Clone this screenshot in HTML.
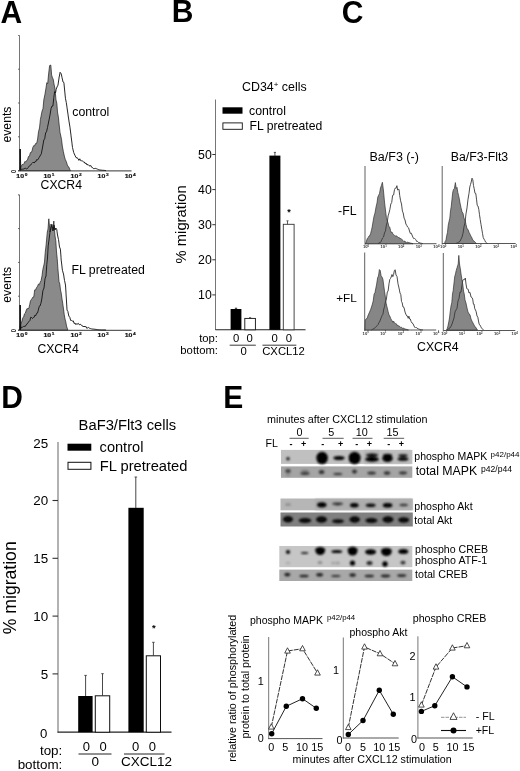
<!DOCTYPE html>
<html><head><meta charset="utf-8"><title>Figure</title>
<style>
html,body{margin:0;padding:0;background:#fff;}
body{width:520px;height:771px;overflow:hidden;}
svg{display:block;font-family:"Liberation Sans",Arial,Helvetica,sans-serif;}
</style></head><body>
<svg width="520" height="771" viewBox="0 0 520 771">
<rect width="520" height="771" fill="#fff"/>
<filter id="soft" x="0" y="0" width="520" height="771" filterUnits="userSpaceOnUse"><feGaussianBlur stdDeviation="0.32"/></filter>
<g filter="url(#soft)">
<text transform="translate(0.5,23.1) scale(1,1.07)" font-size="30" font-weight="bold" fill="#000">A</text>
<text transform="translate(171.8,22.0) scale(1,1.07)" font-size="30" font-weight="bold" fill="#000">B</text>
<text transform="translate(341.7,22.7) scale(1,1.07)" font-size="30" font-weight="bold" fill="#000">C</text>
<text transform="translate(1.2,408.4) scale(1,1.07)" font-size="30" font-weight="bold" fill="#000">D</text>
<text transform="translate(223.3,408.2) scale(1,1.05)" font-size="30" font-weight="bold" fill="#000">E</text>
<line x1="19.5" y1="35.5" x2="19.5" y2="170.6" stroke="#666" stroke-width="0.9" />
<line x1="18" y1="170.9" x2="131.5" y2="170.9" stroke="#333" stroke-width="1" />
<line x1="18" y1="170.6" x2="19.5" y2="170.6" stroke="#444" stroke-width="0.8" />
<line x1="18" y1="136.8" x2="19.5" y2="136.8" stroke="#444" stroke-width="0.8" />
<line x1="18" y1="103.0" x2="19.5" y2="103.0" stroke="#444" stroke-width="0.8" />
<line x1="18" y1="69.2" x2="19.5" y2="69.2" stroke="#444" stroke-width="0.8" />
<line x1="18" y1="35.400000000000006" x2="19.5" y2="35.400000000000006" stroke="#444" stroke-width="0.8" />
<text transform="translate(16.3,177.9) scale(1.4,1)" font-size="5" font-weight="bold" fill="#111" stroke="#111" stroke-width="0.15">10</text>
<text transform="translate(24.7,176.0) scale(1.3,1)" font-size="3.7" font-weight="bold" fill="#111" stroke="#111" stroke-width="0.15">0</text>
<text transform="translate(43.4,177.9) scale(1.4,1)" font-size="5" font-weight="bold" fill="#111" stroke="#111" stroke-width="0.15">10</text>
<text transform="translate(51.8,176.0) scale(1.3,1)" font-size="3.7" font-weight="bold" fill="#111" stroke="#111" stroke-width="0.15">1</text>
<text transform="translate(70.5,177.9) scale(1.4,1)" font-size="5" font-weight="bold" fill="#111" stroke="#111" stroke-width="0.15">10</text>
<text transform="translate(78.9,176.0) scale(1.3,1)" font-size="3.7" font-weight="bold" fill="#111" stroke="#111" stroke-width="0.15">2</text>
<text transform="translate(97.6,177.9) scale(1.4,1)" font-size="5" font-weight="bold" fill="#111" stroke="#111" stroke-width="0.15">10</text>
<text transform="translate(106.0,176.0) scale(1.3,1)" font-size="3.7" font-weight="bold" fill="#111" stroke="#111" stroke-width="0.15">3</text>
<text transform="translate(124.7,177.9) scale(1.4,1)" font-size="5" font-weight="bold" fill="#111" stroke="#111" stroke-width="0.15">10</text>
<text transform="translate(133.1,176.0) scale(1.3,1)" font-size="3.7" font-weight="bold" fill="#111" stroke="#111" stroke-width="0.15">4</text>
<text transform="translate(11.4,169.7) rotate(90) scale(0.85,1)" font-size="7" font-weight="bold" fill="#222">0</text>
<path d="M20.0,170.6 L20.5,167.0 L21.4,165.8 L22.2,164.5 L23.1,164.7 L24.0,163.5 L24.9,161.5 L25.8,161.9 L26.6,160.5 L27.5,160.0 L28.4,156.6 L29.4,156.3 L30.4,152.6 L31.3,152.5 L32.1,150.6 L32.9,147.3 L33.7,145.7 L34.5,146.0 L35.5,143.6 L36.5,143.7 L37.5,140.0 L38.5,131.8 L39.5,128.0 L40.4,119.6 L41.3,115.0 L42.1,111.0 L43.0,108.5 L43.8,100.0 L44.9,94.6 L46.0,88.0 L46.8,82.7 L47.7,83.7 L48.5,75.0 L49.6,65.6 L50.8,65.0 L51.6,74.9 L52.5,78.0 L53.2,79.1 L54.0,84.0 L55.0,89.0 L56.0,100.0 L56.8,103.1 L57.5,112.0 L58.4,117.2 L59.2,125.0 L60.0,132.4 L60.8,136.0 L61.5,139.3 L62.3,146.0 L63.3,151.3 L64.3,156.0 L65.3,159.5 L66.3,161.6 L67.3,165.0 L68.1,166.5 L68.9,167.1 L69.7,169.2 L70.5,170.6 Z" fill="#8a8a8a" stroke="#222" stroke-width="0.7200000000000001" stroke-linejoin="round"/>
<path d="M20.0,170.6 L20.2,149.0 L20.8,169.5 L21.6,169.4 L22.4,169.2 L23.2,169.1 L24.0,169.0 L24.9,168.3 L25.8,168.3 L26.6,168.9 L27.5,168.5 L28.4,167.2 L29.4,165.8 L30.4,165.3 L31.3,164.0 L32.2,163.2 L33.1,162.2 L34.1,163.0 L35.0,161.5 L35.8,161.7 L36.7,159.6 L37.5,160.0 L38.3,158.9 L39.2,157.4 L40.0,156.0 L41.3,153.8 L42.6,147.0 L43.8,140.0 L44.7,138.8 L45.6,133.0 L46.5,131.8 L47.5,127.5 L48.8,121.0 L50.0,115.0 L51.0,108.7 L52.0,106.0 L52.9,106.0 L53.8,97.5 L54.6,91.7 L55.5,93.0 L56.2,89.2 L57.0,87.0 L58.0,85.1 L59.0,78.0 L60.1,72.3 L61.2,73.8 L62.1,77.8 L63.0,82.0 L63.9,82.5 L64.8,92.0 L65.5,98.8 L66.3,102.5 L67.5,111.0 L68.8,120.0 L70.0,127.5 L71.2,137.0 L72.5,147.5 L73.7,152.5 L75.0,155.5 L76.0,157.6 L77.0,157.8 L78.0,158.5 L78.9,160.4 L79.8,158.8 L80.7,160.7 L81.6,160.8 L82.5,161.0 L83.4,161.8 L84.2,161.9 L85.1,163.5 L86.0,163.0 L87.0,165.0 L88.0,164.4 L89.0,165.7 L90.0,166.0 L90.8,165.5 L91.7,167.3 L92.5,167.5 L93.3,168.6 L94.2,168.6 L95.0,168.5 L95.8,168.4 L96.7,168.8 L97.5,169.2 L98.3,169.5 L99.2,169.8 L100.0,170.0 L100.9,170.1 L101.7,170.2 L102.6,170.3 L103.4,170.3 L104.3,170.4 L105.1,170.5 L106.0,170.6" fill="none" stroke="#111" stroke-width="0.9" stroke-linejoin="round"/>
<line x1="20.1" y1="149" x2="20.1" y2="170.6" stroke="#000" stroke-width="0.8" />
<text transform="translate(11,142.5) rotate(-90)" font-size="12.2" text-anchor="start" fill="#000">events</text>
<text x="72.3" y="115.6" font-size="12.3" text-anchor="start" font-weight="normal" fill="#000" >control</text>
<text x="40.6" y="189.4" font-size="12.2" text-anchor="start" font-weight="normal" fill="#000" >CXCR4</text>
<line x1="19.5" y1="195" x2="19.5" y2="330" stroke="#666" stroke-width="0.9" />
<line x1="18" y1="330.3" x2="131.5" y2="330.3" stroke="#333" stroke-width="1" />
<line x1="18" y1="330.0" x2="19.5" y2="330.0" stroke="#444" stroke-width="0.8" />
<line x1="18" y1="296.2" x2="19.5" y2="296.2" stroke="#444" stroke-width="0.8" />
<line x1="18" y1="262.4" x2="19.5" y2="262.4" stroke="#444" stroke-width="0.8" />
<line x1="18" y1="228.60000000000002" x2="19.5" y2="228.60000000000002" stroke="#444" stroke-width="0.8" />
<line x1="18" y1="194.8" x2="19.5" y2="194.8" stroke="#444" stroke-width="0.8" />
<text transform="translate(16.3,337.3) scale(1.4,1)" font-size="5" font-weight="bold" fill="#111" stroke="#111" stroke-width="0.15">10</text>
<text transform="translate(24.7,335.4) scale(1.3,1)" font-size="3.7" font-weight="bold" fill="#111" stroke="#111" stroke-width="0.15">0</text>
<text transform="translate(43.4,337.3) scale(1.4,1)" font-size="5" font-weight="bold" fill="#111" stroke="#111" stroke-width="0.15">10</text>
<text transform="translate(51.8,335.4) scale(1.3,1)" font-size="3.7" font-weight="bold" fill="#111" stroke="#111" stroke-width="0.15">1</text>
<text transform="translate(70.5,337.3) scale(1.4,1)" font-size="5" font-weight="bold" fill="#111" stroke="#111" stroke-width="0.15">10</text>
<text transform="translate(78.9,335.4) scale(1.3,1)" font-size="3.7" font-weight="bold" fill="#111" stroke="#111" stroke-width="0.15">2</text>
<text transform="translate(97.6,337.3) scale(1.4,1)" font-size="5" font-weight="bold" fill="#111" stroke="#111" stroke-width="0.15">10</text>
<text transform="translate(106.0,335.4) scale(1.3,1)" font-size="3.7" font-weight="bold" fill="#111" stroke="#111" stroke-width="0.15">3</text>
<text transform="translate(124.7,337.3) scale(1.4,1)" font-size="5" font-weight="bold" fill="#111" stroke="#111" stroke-width="0.15">10</text>
<text transform="translate(133.1,335.4) scale(1.3,1)" font-size="3.7" font-weight="bold" fill="#111" stroke="#111" stroke-width="0.15">4</text>
<text transform="translate(11.4,329.1) rotate(90) scale(0.85,1)" font-size="7" font-weight="bold" fill="#222">0</text>
<path d="M20.0,330.0 L20.3,325.0 L21.1,323.4 L22.0,321.0 L22.9,317.5 L23.7,316.9 L24.5,313.8 L25.4,313.0 L26.3,310.1 L27.1,308.5 L28.0,309.0 L28.9,308.0 L29.7,304.6 L30.5,300.8 L31.4,299.5 L32.2,298.3 L33.0,297.0 L33.8,296.8 L34.7,289.9 L35.5,290.0 L36.5,287.7 L37.5,286.3 L38.5,284.0 L39.4,284.5 L40.2,282.2 L41.1,280.5 L42.0,276.0 L42.8,269.7 L43.7,266.0 L44.5,262.0 L45.2,252.8 L46.0,246.0 L47.3,232.0 L48.0,229.1 L48.8,218.8 L50.0,232.0 L51.0,224.0 L52.3,230.0 L53.0,230.0 L53.8,221.0 L55.0,236.0 L55.8,240.9 L56.5,252.0 L57.2,258.4 L58.0,270.0 L59.0,281.5 L59.8,284.0 L60.5,290.0 L61.2,293.0 L62.0,299.0 L62.8,303.9 L63.5,309.0 L64.2,314.3 L65.0,319.0 L65.8,321.9 L66.5,326.0 L67.8,330.0 Z" fill="#8a8a8a" stroke="#222" stroke-width="0.7200000000000001" stroke-linejoin="round"/>
<path d="M20.0,330.0 L20.2,305.0 L20.8,328.5 L21.7,327.2 L22.5,327.2 L23.4,326.5 L24.3,326.3 L25.1,326.6 L26.0,325.0 L26.9,324.3 L27.9,322.6 L28.9,321.7 L29.8,320.7 L30.8,317.2 L31.7,317.6 L32.5,318.5 L33.4,317.4 L34.2,317.2 L35.0,315.0 L35.8,315.6 L36.7,313.2 L37.5,313.0 L38.3,310.2 L39.2,306.4 L40.0,306.0 L40.9,303.3 L41.8,299.0 L42.9,290.7 L44.0,288.0 L45.0,278.8 L46.0,276.0 L46.8,264.5 L47.5,258.0 L48.2,245.8 L49.0,240.0 L50.0,232.1 L51.0,227.5 L52.0,224.5 L53.0,231.0 L54.0,225.2 L55.0,230.0 L55.8,228.0 L56.7,229.2 L57.5,235.0 L58.5,239.6 L59.5,247.0 L60.4,249.1 L61.2,260.0 L62.4,270.2 L63.5,274.0 L64.5,280.4 L65.5,285.0 L66.3,298.0 L67.0,310.0 L67.9,311.5 L68.8,316.0 L69.8,317.3 L70.7,320.5 L71.6,320.5 L72.4,321.1 L73.3,320.9 L74.1,323.5 L75.0,323.0 L75.9,324.7 L76.7,323.6 L77.6,324.0 L78.4,323.4 L79.3,324.8 L80.2,324.2 L81.2,325.2 L82.2,325.4 L83.1,326.9 L84.0,326.0 L85.0,327.0 L85.9,326.4 L86.8,328.3 L87.7,327.8 L88.7,327.5 L89.6,328.3 L90.5,328.5 L91.4,328.8 L92.3,329.0 L93.2,329.1 L94.1,329.2 L95.0,329.3 L95.9,329.4 L96.8,329.5 L97.7,329.6 L98.6,329.7 L99.5,329.8 L100.4,329.8 L101.4,329.9 L102.3,329.9 L103.2,329.9 L104.1,329.9 L105.1,330.0 L106.0,330.0" fill="none" stroke="#111" stroke-width="0.9" stroke-linejoin="round"/>
<line x1="20.1" y1="305" x2="20.1" y2="330" stroke="#000" stroke-width="0.8" />
<text transform="translate(11.3,302.7) rotate(-90)" font-size="12.2" text-anchor="start" fill="#000">events</text>
<text x="71.5" y="273.7" font-size="12.3" text-anchor="start" font-weight="normal" fill="#000" >FL pretreated</text>
<text x="37.4" y="352.5" font-size="12.2" text-anchor="start" font-weight="normal" fill="#000" >CXCR4</text>
<line x1="18.6" y1="195.2" x2="19.5" y2="195.2" stroke="#555" stroke-width="0.6" />
<text x="242" y="91.3" font-size="12.4" text-anchor="start" font-weight="normal" fill="#000" >CD34<tspan dy="-4" font-size="8">+</tspan><tspan dy="4"> cells</tspan></text>
<line x1="215.5" y1="99.5" x2="215.5" y2="330" stroke="#666" stroke-width="0.9" />
<line x1="215.5" y1="329.8" x2="305.5" y2="329.8" stroke="#222" stroke-width="1.05" />
<rect x="222.5" y="107.3" width="20" height="6.4" fill="#000" stroke="none" stroke-width="1" />
<rect x="222.9" y="122.9" width="19.4" height="6.4" fill="#fff" stroke="#111" stroke-width="0.9" />
<text x="249" y="115" font-size="12.3" text-anchor="start" font-weight="normal" fill="#000" >control</text>
<text x="249.5" y="129.8" font-size="12.2" text-anchor="start" font-weight="normal" fill="#000" >FL pretreated</text>
<line x1="212.3" y1="154.5" x2="215.5" y2="154.5" stroke="#333" stroke-width="1" />
<text x="211.8" y="158.9" font-size="12.3" text-anchor="end" font-weight="normal" fill="#000" >50</text>
<line x1="212.3" y1="189.6" x2="215.5" y2="189.6" stroke="#333" stroke-width="1" />
<text x="211.8" y="194.0" font-size="12.3" text-anchor="end" font-weight="normal" fill="#000" >40</text>
<line x1="212.3" y1="224.7" x2="215.5" y2="224.7" stroke="#333" stroke-width="1" />
<text x="211.8" y="229.1" font-size="12.3" text-anchor="end" font-weight="normal" fill="#000" >30</text>
<line x1="212.3" y1="259.8" x2="215.5" y2="259.8" stroke="#333" stroke-width="1" />
<text x="211.8" y="264.2" font-size="12.3" text-anchor="end" font-weight="normal" fill="#000" >20</text>
<line x1="212.3" y1="294.9" x2="215.5" y2="294.9" stroke="#333" stroke-width="1" />
<text x="211.8" y="299.29999999999995" font-size="12.3" text-anchor="end" font-weight="normal" fill="#000" >10</text>
<text transform="translate(186.3,263.5) rotate(-90)" font-size="14.8" text-anchor="start" fill="#000">% migration</text>
<rect x="230.6" y="309" width="10.8" height="20.8" fill="#000" stroke="none" stroke-width="1" />
<line x1="236" y1="308" x2="236" y2="309" stroke="#000" stroke-width="0.8" />
<line x1="234.8" y1="308.2" x2="237.2" y2="308.2" stroke="#000" stroke-width="0.7" />
<rect x="244.8" y="318.4" width="10.6" height="11.4" fill="#fff" stroke="#111" stroke-width="0.9" />
<line x1="250.1" y1="317.6" x2="250.1" y2="318.4" stroke="#222" stroke-width="0.8" />
<line x1="249" y1="317.6" x2="251.2" y2="317.6" stroke="#222" stroke-width="0.6" />
<rect x="269.4" y="155.6" width="11" height="174.2" fill="#000" stroke="none" stroke-width="1" />
<line x1="274.9" y1="152.4" x2="274.9" y2="156" stroke="#222" stroke-width="0.8" />
<line x1="273.8" y1="152.4" x2="276" y2="152.4" stroke="#222" stroke-width="0.7" />
<rect x="283.3" y="224.3" width="10.8" height="105.5" fill="#fff" stroke="#333" stroke-width="0.9" />
<line x1="287.5" y1="220.8" x2="287.5" y2="224.3" stroke="#333" stroke-width="0.8" />
<line x1="286.4" y1="220.8" x2="288.6" y2="220.8" stroke="#333" stroke-width="0.7" />
<text x="289" y="214.6" font-size="9" text-anchor="middle" font-weight="bold" fill="#000" >*</text>
<text x="218" y="341.5" font-size="11.3" text-anchor="end" font-weight="normal" fill="#000" >top:</text>
<text x="218" y="353.5" font-size="11.3" text-anchor="end" font-weight="normal" fill="#000" >bottom:</text>
<text x="236.1" y="341.5" font-size="11.3" text-anchor="middle" font-weight="normal" fill="#000" >0</text>
<text x="249.7" y="341.5" font-size="11.3" text-anchor="middle" font-weight="normal" fill="#000" >0</text>
<text x="274.6" y="341.5" font-size="11.3" text-anchor="middle" font-weight="normal" fill="#000" >0</text>
<text x="289.0" y="341.5" font-size="11.3" text-anchor="middle" font-weight="normal" fill="#000" >0</text>
<line x1="229.7" y1="345.2" x2="255.8" y2="345.2" stroke="#222" stroke-width="0.9" />
<line x1="262.5" y1="345.2" x2="296.3" y2="345.2" stroke="#222" stroke-width="0.9" />
<text x="243.7" y="355" font-size="11.3" text-anchor="middle" font-weight="normal" fill="#000" >0</text>
<text x="262.2" y="355" font-size="11.3" text-anchor="start" font-weight="normal" fill="#000" >CXCL12</text>
<text x="369.5" y="161" font-size="12.5" text-anchor="start" font-weight="normal" fill="#000" >Ba/F3 (-)</text>
<text x="450.8" y="161" font-size="12.3" text-anchor="start" font-weight="normal" fill="#000" >Ba/F3-Flt3</text>
<text x="338.1" y="215" font-size="12.3" text-anchor="start" font-weight="normal" fill="#000" >-FL</text>
<text x="336.2" y="302" font-size="11.8" text-anchor="start" font-weight="normal" fill="#000" >+FL</text>
<text x="417" y="351.3" font-size="12.3" text-anchor="start" font-weight="normal" fill="#000" >CXCR4</text>
<line x1="365" y1="166" x2="365" y2="244.7" stroke="#444" stroke-width="0.85" />
<line x1="365" y1="243.7" x2="436.5" y2="243.7" stroke="#444" stroke-width="0.9" />
<text x="366.0" y="248.39999999999998" font-size="4.2" font-weight="bold" text-anchor="middle" fill="#333">10<tspan dy="-1.3" font-size="2.8">0</tspan></text>
<text x="383.6" y="248.39999999999998" font-size="4.2" font-weight="bold" text-anchor="middle" fill="#333">10<tspan dy="-1.3" font-size="2.8">1</tspan></text>
<text x="401.2" y="248.39999999999998" font-size="4.2" font-weight="bold" text-anchor="middle" fill="#333">10<tspan dy="-1.3" font-size="2.8">2</tspan></text>
<text x="418.8" y="248.39999999999998" font-size="4.2" font-weight="bold" text-anchor="middle" fill="#333">10<tspan dy="-1.3" font-size="2.8">3</tspan></text>
<text x="436.4" y="248.39999999999998" font-size="4.2" font-weight="bold" text-anchor="middle" fill="#333">10<tspan dy="-1.3" font-size="2.8">4</tspan></text>
<path d="M365.5,243.7 L366.5,241.0 L367.3,238.4 L368.2,237.7 L369.0,236.0 L369.8,235.6 L370.6,233.5 L371.4,230.5 L372.2,227.0 L373.0,222.0 L374.0,216.3 L375.0,213.0 L376.0,207.2 L377.0,203.0 L377.8,197.1 L378.5,195.5 L379.5,193.6 L380.5,188.0 L381.4,185.4 L382.4,182.3 L383.5,191.0 L384.5,202.0 L385.7,212.0 L386.4,217.4 L387.0,220.0 L388.0,222.8 L389.0,227.0 L389.8,227.2 L390.5,230.6 L391.2,232.4 L392.0,232.0 L392.8,233.9 L393.6,234.5 L394.4,235.3 L395.2,235.9 L396.0,236.0 L396.8,235.9 L397.6,237.2 L398.4,237.5 L399.2,237.4 L400.0,239.0 L400.8,238.4 L401.5,239.3 L402.2,239.6 L403.0,240.7 L403.8,241.5 L404.5,241.0 L405.2,242.1 L406.0,241.8 L406.8,242.6 L407.6,242.2 L408.3,242.4 L409.1,242.6 L409.9,242.9 L410.7,243.1 L411.4,243.3 L412.2,243.5 L413.0,243.7 Z" fill="#868686" stroke="#333" stroke-width="0.7200000000000001" stroke-linejoin="round"/>
<path d="M378.0,243.7 L378.8,243.1 L379.5,242.6 L380.2,242.7 L381.0,241.5 L381.8,239.7 L382.7,237.8 L383.5,237.0 L384.5,233.0 L385.5,230.8 L386.4,225.1 L387.3,222.0 L388.1,215.9 L389.0,213.0 L389.9,209.3 L390.8,204.0 L391.7,202.5 L392.6,195.4 L393.6,195.0 L394.5,189.5 L395.3,188.1 L396.1,188.2 L396.9,185.7 L397.6,190.0 L398.3,189.5 L399.0,189.3 L399.7,195.4 L400.6,200.8 L401.5,204.0 L402.4,211.1 L403.2,213.0 L404.1,218.1 L405.0,220.0 L405.9,224.0 L406.8,225.5 L407.7,227.2 L408.6,227.9 L409.5,231.0 L410.3,233.4 L411.2,233.1 L412.0,235.0 L412.8,237.0 L413.7,238.6 L414.5,238.5 L415.2,239.0 L415.9,239.7 L416.7,241.5 L417.4,241.4 L418.3,242.3 L419.1,242.5 L420.0,243.0 L420.8,243.2 L421.5,243.3 L422.2,243.5 L423.0,243.7" fill="none" stroke="#383838" stroke-width="0.9" stroke-linejoin="round"/>
<line x1="442.2" y1="166" x2="442.2" y2="244.5" stroke="#444" stroke-width="0.85" />
<line x1="442.2" y1="243.5" x2="515.7" y2="243.5" stroke="#444" stroke-width="0.9" />
<text x="443.2" y="248.2" font-size="4.2" font-weight="bold" text-anchor="middle" fill="#333">10<tspan dy="-1.3" font-size="2.8">0</tspan></text>
<text x="460.8" y="248.2" font-size="4.2" font-weight="bold" text-anchor="middle" fill="#333">10<tspan dy="-1.3" font-size="2.8">1</tspan></text>
<text x="478.4" y="248.2" font-size="4.2" font-weight="bold" text-anchor="middle" fill="#333">10<tspan dy="-1.3" font-size="2.8">2</tspan></text>
<text x="496.0" y="248.2" font-size="4.2" font-weight="bold" text-anchor="middle" fill="#333">10<tspan dy="-1.3" font-size="2.8">3</tspan></text>
<text x="513.6" y="248.2" font-size="4.2" font-weight="bold" text-anchor="middle" fill="#333">10<tspan dy="-1.3" font-size="2.8">4</tspan></text>
<path d="M444.5,243.5 L445.2,241.4 L446.0,240.1 L446.8,235.2 L447.5,232.3 L448.2,225.6 L449.0,221.6 L449.8,218.2 L450.5,210.8 L451.2,206.8 L452.0,199.1 L452.8,191.9 L453.5,189.4 L454.4,188.4 L455.4,182.6 L456.2,188.5 L457.0,187.4 L457.8,192.4 L458.5,195.2 L459.2,198.2 L460.0,203.0 L461.0,207.7 L462.0,211.8 L463.0,213.3 L464.0,218.6 L465.0,219.4 L466.0,224.5 L467.0,228.8 L468.0,229.4 L469.0,232.3 L470.0,234.2 L471.0,236.3 L472.0,238.1 L473.0,240.4 L474.0,241.1 L474.8,241.8 L475.7,242.7 L476.5,243.5 Z" fill="#868686" stroke="#333" stroke-width="0.7200000000000001" stroke-linejoin="round"/>
<path d="M456.0,243.5 L456.8,243.1 L457.5,242.8 L458.2,242.4 L459.0,242.0 L460.0,241.3 L461.0,239.1 L462.0,237.1 L463.0,233.3 L464.0,226.7 L465.0,222.5 L466.0,213.8 L467.0,207.9 L468.0,199.2 L469.0,193.3 L469.8,186.9 L470.5,184.5 L471.2,182.1 L472.0,178.2 L472.8,179.8 L473.5,185.5 L474.2,188.8 L475.0,193.3 L475.8,193.5 L476.5,199.1 L477.2,205.3 L478.0,206.0 L478.8,209.5 L479.5,214.7 L480.2,219.4 L481.0,224.5 L481.8,229.2 L482.5,233.3 L483.2,237.4 L484.0,239.1 L484.8,240.4 L485.5,242.0 L486.5,242.8 L487.5,243.5" fill="none" stroke="#383838" stroke-width="0.9" stroke-linejoin="round"/>
<line x1="364.7" y1="252.5" x2="364.7" y2="331" stroke="#444" stroke-width="0.85" />
<line x1="364.7" y1="330" x2="436.2" y2="330" stroke="#444" stroke-width="0.9" />
<text x="365.7" y="334.7" font-size="4.2" font-weight="bold" text-anchor="middle" fill="#333">10<tspan dy="-1.3" font-size="2.8">0</tspan></text>
<text x="383.3" y="334.7" font-size="4.2" font-weight="bold" text-anchor="middle" fill="#333">10<tspan dy="-1.3" font-size="2.8">1</tspan></text>
<text x="400.9" y="334.7" font-size="4.2" font-weight="bold" text-anchor="middle" fill="#333">10<tspan dy="-1.3" font-size="2.8">2</tspan></text>
<text x="418.5" y="334.7" font-size="4.2" font-weight="bold" text-anchor="middle" fill="#333">10<tspan dy="-1.3" font-size="2.8">3</tspan></text>
<text x="436.1" y="334.7" font-size="4.2" font-weight="bold" text-anchor="middle" fill="#333">10<tspan dy="-1.3" font-size="2.8">4</tspan></text>
<path d="M365.0,330.0 L365.3,320.0 L366.5,318.5 L367.2,318.4 L368.0,315.5 L368.8,313.8 L369.6,312.0 L370.6,309.6 L371.5,307.0 L372.4,304.1 L373.2,301.0 L374.1,294.1 L375.0,292.5 L375.9,287.9 L376.7,284.0 L377.6,277.8 L378.5,276.0 L379.4,269.6 L380.2,270.4 L381.1,275.9 L382.0,277.0 L382.9,279.3 L383.8,286.0 L384.6,291.8 L385.5,298.0 L386.2,303.6 L387.0,307.0 L388.0,311.2 L389.0,315.0 L389.8,316.1 L390.7,318.4 L391.5,320.0 L392.2,320.9 L392.9,322.3 L393.7,321.2 L394.4,323.0 L395.1,323.6 L395.8,323.4 L396.6,324.0 L397.3,325.6 L398.0,325.5 L398.9,326.0 L399.8,326.5 L400.6,327.3 L401.5,327.3 L402.4,328.3 L403.2,328.1 L404.1,328.6 L405.0,329.0 L405.9,329.2 L406.8,329.5 L407.6,329.8 L408.5,330.0 Z" fill="#868686" stroke="#333" stroke-width="0.7200000000000001" stroke-linejoin="round"/>
<path d="M371.4,330.0 L372.3,329.5 L373.1,329.0 L374.0,328.5 L374.9,327.9 L375.8,327.0 L376.7,326.3 L377.4,325.3 L378.1,324.6 L378.8,322.9 L379.5,322.0 L380.3,320.0 L381.2,317.7 L382.0,315.7 L382.9,314.3 L383.8,309.0 L384.6,306.3 L385.5,301.5 L386.4,299.1 L387.3,292.0 L388.1,291.0 L389.0,283.8 L389.8,279.4 L390.5,278.5 L391.2,277.0 L392.0,274.5 L392.8,276.7 L393.6,274.5 L394.4,270.4 L395.2,269.8 L396.0,275.0 L397.0,276.5 L398.0,283.8 L399.0,288.0 L400.0,293.0 L400.8,294.6 L401.5,301.5 L402.2,302.8 L403.0,307.0 L404.0,307.4 L405.0,312.0 L405.8,314.1 L406.7,315.9 L407.5,316.0 L408.2,318.3 L408.9,316.2 L409.6,319.0 L410.3,319.0 L411.1,321.5 L412.0,323.0 L413.0,323.6 L414.0,326.0 L414.8,327.3 L415.5,328.0 L416.2,327.3 L417.0,328.3 L417.8,328.6 L418.5,328.9 L419.2,329.2 L420.0,329.5 L420.8,329.6 L421.5,329.8 L422.2,329.9 L423.0,330.0" fill="none" stroke="#383838" stroke-width="0.9" stroke-linejoin="round"/>
<line x1="443.3" y1="253" x2="443.3" y2="331.5" stroke="#444" stroke-width="0.85" />
<line x1="443.3" y1="330.5" x2="515.3" y2="330.5" stroke="#444" stroke-width="0.9" />
<text x="444.3" y="335.2" font-size="4.2" font-weight="bold" text-anchor="middle" fill="#333">10<tspan dy="-1.3" font-size="2.8">0</tspan></text>
<text x="461.90000000000003" y="335.2" font-size="4.2" font-weight="bold" text-anchor="middle" fill="#333">10<tspan dy="-1.3" font-size="2.8">1</tspan></text>
<text x="479.5" y="335.2" font-size="4.2" font-weight="bold" text-anchor="middle" fill="#333">10<tspan dy="-1.3" font-size="2.8">2</tspan></text>
<text x="497.1" y="335.2" font-size="4.2" font-weight="bold" text-anchor="middle" fill="#333">10<tspan dy="-1.3" font-size="2.8">3</tspan></text>
<text x="514.7" y="335.2" font-size="4.2" font-weight="bold" text-anchor="middle" fill="#333">10<tspan dy="-1.3" font-size="2.8">4</tspan></text>
<path d="M446.5,330.0 L447.2,328.7 L448.0,326.0 L448.8,321.7 L449.5,318.0 L450.2,311.9 L451.0,306.0 L451.8,302.6 L452.5,294.0 L453.2,290.6 L454.0,283.0 L454.8,276.2 L455.5,274.0 L456.2,270.5 L457.0,268.0 L458.2,264.0 L458.8,255.4 L459.5,264.0 L460.5,270.0 L461.2,275.1 L462.0,280.0 L462.8,284.5 L463.5,291.0 L464.2,293.8 L465.0,300.0 L466.0,303.1 L467.0,308.0 L468.0,311.9 L469.0,314.0 L470.0,314.8 L471.0,319.0 L472.0,321.2 L473.0,323.0 L474.0,324.9 L475.0,327.0 L475.8,327.3 L476.7,329.0 L477.5,330.0 Z" fill="#868686" stroke="#333" stroke-width="0.7200000000000001" stroke-linejoin="round"/>
<path d="M447.0,330.0 L447.8,329.5 L448.5,329.0 L449.2,328.2 L450.0,328.0 L451.0,326.3 L452.0,324.0 L453.0,321.0 L454.0,318.0 L455.0,311.9 L456.0,310.0 L457.0,308.3 L458.0,301.0 L459.0,298.5 L460.0,292.0 L461.0,292.1 L462.0,285.0 L462.9,280.0 L463.7,279.5 L464.6,279.6 L465.3,278.0 L466.0,284.0 L466.8,288.7 L467.5,289.0 L468.2,289.3 L469.0,293.0 L470.0,292.4 L471.0,297.0 L471.9,297.5 L472.7,299.0 L473.4,304.1 L474.0,304.0 L474.8,308.8 L475.5,310.0 L476.2,311.8 L477.0,316.0 L477.8,317.1 L478.5,321.0 L479.2,324.3 L480.0,325.0 L480.8,326.7 L481.5,328.0 L482.5,329.0 L483.5,330.0" fill="none" stroke="#383838" stroke-width="0.9" stroke-linejoin="round"/>
<text x="78.6" y="429.6" font-size="14.75" text-anchor="start" font-weight="normal" fill="#000" >BaF3/Flt3 cells</text>
<line x1="58" y1="442" x2="58" y2="732.5" stroke="#555" stroke-width="0.9" />
<line x1="57.5" y1="732.2" x2="171.5" y2="732.2" stroke="#222" stroke-width="1.3" />
<rect x="67.5" y="443.7" width="23.8" height="7" fill="#000" stroke="none" stroke-width="1" />
<rect x="68" y="462.3" width="22.9" height="7" fill="#fff" stroke="#111" stroke-width="1" />
<text x="99.6" y="452.2" font-size="14.6" text-anchor="start" font-weight="normal" fill="#000" >control</text>
<text x="99.8" y="470.6" font-size="14.7" text-anchor="start" font-weight="normal" fill="#000" >FL pretreated</text>
<text x="48.2" y="447.6" font-size="13.4" text-anchor="end" font-weight="normal" fill="#000" >25</text>
<line x1="52.5" y1="500.5" x2="58" y2="500.5" stroke="#333" stroke-width="1.1" />
<text x="48.2" y="505.1" font-size="13.4" text-anchor="end" font-weight="normal" fill="#000" >20</text>
<line x1="52.5" y1="558.3" x2="58" y2="558.3" stroke="#333" stroke-width="1.1" />
<text x="48.2" y="562.9" font-size="13.4" text-anchor="end" font-weight="normal" fill="#000" >15</text>
<line x1="52.5" y1="616.1" x2="58" y2="616.1" stroke="#333" stroke-width="1.1" />
<text x="48.2" y="620.7" font-size="13.4" text-anchor="end" font-weight="normal" fill="#000" >10</text>
<line x1="52.5" y1="673.9" x2="58" y2="673.9" stroke="#333" stroke-width="1.1" />
<text x="48.2" y="678.5" font-size="13.4" text-anchor="end" font-weight="normal" fill="#000" >5</text>
<text x="47.3" y="738.4" font-size="13.2" text-anchor="end" font-weight="normal" fill="#000" >0</text>
<text transform="translate(15.7,634.2) rotate(-90)" font-size="17.6" text-anchor="start" fill="#000">% migration</text>
<rect x="78.2" y="696" width="14.4" height="36.2" fill="#000" stroke="none" stroke-width="1" />
<line x1="85.6" y1="675.4" x2="85.6" y2="696" stroke="#333" stroke-width="0.9" />
<line x1="84.3" y1="675.4" x2="86.9" y2="675.4" stroke="#333" stroke-width="0.8" />
<rect x="95.3" y="695.8" width="14.4" height="36.4" fill="#fff" stroke="#111" stroke-width="1" />
<line x1="102.5" y1="673.7" x2="102.5" y2="695.8" stroke="#333" stroke-width="0.9" />
<line x1="101.2" y1="673.7" x2="103.8" y2="673.7" stroke="#333" stroke-width="0.8" />
<rect x="128.4" y="507.8" width="15.3" height="224.4" fill="#000" stroke="none" stroke-width="1" />
<line x1="135.8" y1="477" x2="135.8" y2="508" stroke="#333" stroke-width="0.9" />
<line x1="134.5" y1="477" x2="137.1" y2="477" stroke="#333" stroke-width="0.8" />
<rect x="146.3" y="655.8" width="14.2" height="76.4" fill="#fff" stroke="#111" stroke-width="1" />
<line x1="153.4" y1="642.3" x2="153.4" y2="655.8" stroke="#333" stroke-width="0.9" />
<line x1="152.1" y1="642.3" x2="154.7" y2="642.3" stroke="#333" stroke-width="0.8" />
<text x="153.8" y="631.2" font-size="9.5" text-anchor="middle" font-weight="bold" fill="#000" >*</text>
<text x="62.3" y="754.5" font-size="13.4" text-anchor="end" font-weight="normal" fill="#000" >top:</text>
<text x="62.3" y="768.6" font-size="13.4" text-anchor="end" font-weight="normal" fill="#000" >bottom:</text>
<text x="86.4" y="751" font-size="13" text-anchor="middle" font-weight="normal" fill="#000" >0</text>
<text x="103.2" y="751" font-size="13" text-anchor="middle" font-weight="normal" fill="#000" >0</text>
<text x="135.7" y="751" font-size="13" text-anchor="middle" font-weight="normal" fill="#000" >0</text>
<text x="152.4" y="751" font-size="13" text-anchor="middle" font-weight="normal" fill="#000" >0</text>
<line x1="78.5" y1="754.0" x2="111.5" y2="754.0" stroke="#222" stroke-width="1" />
<line x1="124" y1="754.0" x2="164.5" y2="754.0" stroke="#222" stroke-width="1" />
<text x="95.3" y="766.3" font-size="13.5" text-anchor="middle" font-weight="normal" fill="#000" >0</text>
<text x="121" y="766.3" font-size="13.5" text-anchor="start" font-weight="normal" fill="#000" >CXCL12</text>
<text x="267.1" y="423.4" font-size="10.78" text-anchor="start" font-weight="normal" fill="#000" >minutes after CXCL12 stimulation</text>
<text x="299.5" y="436.0" font-size="10.8" text-anchor="middle" font-weight="normal" fill="#000" >0</text>
<text x="331.2" y="436.0" font-size="10.8" text-anchor="middle" font-weight="normal" fill="#000" >5</text>
<text x="361.8" y="436.0" font-size="10.8" text-anchor="middle" font-weight="normal" fill="#000" >10</text>
<text x="392.5" y="436.0" font-size="10.8" text-anchor="middle" font-weight="normal" fill="#000" >15</text>
<line x1="289.5" y1="438.3" x2="308.7" y2="438.3" stroke="#333" stroke-width="0.8" />
<line x1="322.5" y1="438.3" x2="343.7" y2="438.3" stroke="#333" stroke-width="0.8" />
<line x1="352.5" y1="438.3" x2="372.5" y2="438.3" stroke="#333" stroke-width="0.8" />
<line x1="383.7" y1="438.3" x2="404.2" y2="438.3" stroke="#333" stroke-width="0.8" />
<text x="265.5" y="447" font-size="10.6" text-anchor="start" font-weight="normal" fill="#000" >FL</text>
<text x="291" y="446.6" font-size="9" text-anchor="middle" font-weight="bold" fill="#000" >-</text>
<text x="303.7" y="446.6" font-size="9" text-anchor="middle" font-weight="bold" fill="#000" >+</text>
<text x="322.7" y="446.6" font-size="9" text-anchor="middle" font-weight="bold" fill="#000" >-</text>
<text x="340.7" y="446.6" font-size="9" text-anchor="middle" font-weight="bold" fill="#000" >+</text>
<text x="356.7" y="446.6" font-size="9" text-anchor="middle" font-weight="bold" fill="#000" >-</text>
<text x="369.5" y="446.6" font-size="9" text-anchor="middle" font-weight="bold" fill="#000" >+</text>
<text x="388.7" y="446.6" font-size="9" text-anchor="middle" font-weight="bold" fill="#000" >-</text>
<text x="401.5" y="446.6" font-size="9" text-anchor="middle" font-weight="bold" fill="#000" >+</text>
<defs><filter id="bl" x="-20%" y="-50%" width="140%" height="200%"><feGaussianBlur stdDeviation="0.95"/></filter><filter id="bl2" x="-20%" y="-50%" width="140%" height="200%"><feGaussianBlur stdDeviation="0.45"/></filter></defs>
<rect x="281" y="449.9" width="131.3" height="14" fill="#c0c0c0" stroke="none" stroke-width="1" />
<rect x="364" y="450.5" width="16" height="13" fill="#b4b4b4" stroke="none" stroke-width="1" filter="url(#bl)"/>
<rect x="380" y="451" width="31" height="12.5" fill="#bcbcbc" stroke="none" stroke-width="1" filter="url(#bl)"/>
<g filter="url(#bl)">
<ellipse cx="288" cy="458.8" rx="1.7" ry="1.7" fill="#000" opacity="0.9"/>
<ellipse cx="322.1" cy="458" rx="5.75" ry="6.25" fill="#000" opacity="1"/>
<ellipse cx="322.1" cy="457" rx="4.5" ry="4.5" fill="#000" opacity="1"/>
<ellipse cx="322.1" cy="460" rx="5.25" ry="3.0" fill="#000" opacity="1"/>
<ellipse cx="339" cy="458" rx="5.75" ry="2.1" fill="#000" opacity="1"/>
<ellipse cx="354.6" cy="458" rx="6.0" ry="6.25" fill="#000" opacity="1"/>
<ellipse cx="354.6" cy="457" rx="4.75" ry="4.5" fill="#000" opacity="1"/>
<ellipse cx="354.6" cy="460" rx="5.5" ry="3.0" fill="#000" opacity="1"/>
<ellipse cx="372" cy="455.2" rx="6.0" ry="1.6" fill="#000" opacity="1"/>
<ellipse cx="372" cy="459.2" rx="6.75" ry="2.5" fill="#000" opacity="1"/>
<ellipse cx="387.5" cy="458.3" rx="5.25" ry="3.75" fill="#000" opacity="1"/>
<ellipse cx="387.5" cy="455.2" rx="4.5" ry="1.5" fill="#000" opacity="1"/>
<ellipse cx="403" cy="455.6" rx="4.75" ry="1.3" fill="#000" opacity="0.95"/>
<ellipse cx="403" cy="459" rx="5.5" ry="1.8" fill="#000" opacity="1"/>
</g>
<rect x="281" y="466.4" width="131.3" height="11.4" fill="#a5a5a5" stroke="none" stroke-width="1" />
<g filter="url(#bl)">
<ellipse cx="288" cy="471" rx="2.75" ry="2.0" fill="#000" opacity="0.6"/>
<ellipse cx="288" cy="475" rx="2.5" ry="1.0" fill="#000" opacity="0.2"/>
<ellipse cx="305" cy="470.8" rx="4.0" ry="0.9" fill="#000" opacity="0.35"/>
<ellipse cx="305" cy="473.6" rx="4.75" ry="1.4" fill="#000" opacity="0.7"/>
<ellipse cx="321.6" cy="472" rx="2.75" ry="2.1" fill="#000" opacity="0.7"/>
<ellipse cx="337.8" cy="474" rx="4.5" ry="1.1" fill="#000" opacity="0.75"/>
<ellipse cx="354.5" cy="471.6" rx="2.5" ry="2.1" fill="#000" opacity="0.7"/>
<ellipse cx="371.6" cy="473" rx="4.25" ry="1.5" fill="#000" opacity="0.7"/>
<ellipse cx="387" cy="473" rx="3.25" ry="1.8" fill="#000" opacity="0.7"/>
<ellipse cx="403" cy="473" rx="4.0" ry="1.4" fill="#000" opacity="0.7"/>
</g>
<rect x="280.5" y="498.5" width="132.3" height="11.8" fill="#b6b6b6" stroke="none" stroke-width="1" />
<rect x="315" y="499" width="97" height="10.8" fill="#adadad" stroke="none" stroke-width="1" filter="url(#bl)"/>
<g filter="url(#bl)">
<ellipse cx="288" cy="504.5" rx="3.0" ry="1.5" fill="#000" opacity="0.2"/>
<ellipse cx="321.8" cy="504.8" rx="4.75" ry="2.6" fill="#000" opacity="1"/>
<ellipse cx="337.6" cy="503.8" rx="5.5" ry="1.2" fill="#000" opacity="0.7"/>
<ellipse cx="337.6" cy="504.6" rx="2.5" ry="1.2" fill="#000" opacity="0.4"/>
<ellipse cx="354.3" cy="505.2" rx="4.25" ry="2.2" fill="#000" opacity="1"/>
<ellipse cx="370.7" cy="505.2" rx="5.0" ry="1.8" fill="#000" opacity="0.95"/>
<ellipse cx="387.6" cy="505.2" rx="4.75" ry="2.3" fill="#000" opacity="1"/>
<ellipse cx="403.7" cy="505" rx="4.25" ry="1.2" fill="#000" opacity="0.7"/>
</g>
<rect x="280.5" y="512.5" width="132.3" height="14" fill="#808080" stroke="none" stroke-width="1" />
<g filter="url(#bl)">
<ellipse cx="288" cy="519.3" rx="5.0" ry="3.2" fill="#000" opacity="0.95"/>
<ellipse cx="305" cy="520.6" rx="6.25" ry="2.5" fill="#000" opacity="0.95"/>
<ellipse cx="321.5" cy="519.5" rx="5.5" ry="3.2" fill="#000" opacity="0.95"/>
<ellipse cx="338" cy="521.2" rx="6.0" ry="2.0" fill="#000" opacity="0.95"/>
<ellipse cx="354.7" cy="519.5" rx="5.25" ry="3.2" fill="#000" opacity="0.95"/>
<ellipse cx="371.4" cy="520.6" rx="6.0" ry="2.5" fill="#000" opacity="0.95"/>
<ellipse cx="388" cy="519.5" rx="5.5" ry="3.2" fill="#000" opacity="0.95"/>
<ellipse cx="403.7" cy="520" rx="5.5" ry="2.7" fill="#000" opacity="0.95"/>
</g>
<rect x="279.3" y="546" width="133" height="21.2" fill="#c6c6c6" stroke="none" stroke-width="1" />
<g filter="url(#bl)">
<ellipse cx="288" cy="552" rx="2.2" ry="2.1" fill="#000" opacity="0.95"/>
<ellipse cx="304.6" cy="553" rx="3.75" ry="1.1" fill="#000" opacity="0.85"/>
<ellipse cx="320.2" cy="551" rx="4.75" ry="4.0" fill="#000" opacity="1"/>
<ellipse cx="320.2" cy="549.5" rx="5.0" ry="2.0" fill="#000" opacity="1"/>
<ellipse cx="336.8" cy="551.6" rx="5.5" ry="1.5" fill="#000" opacity="1"/>
<ellipse cx="352.6" cy="551.2" rx="4.75" ry="4.4" fill="#000" opacity="1"/>
<ellipse cx="352.6" cy="549.5" rx="5.0" ry="2.0" fill="#000" opacity="1"/>
<ellipse cx="370.6" cy="552" rx="5.5" ry="2.7" fill="#000" opacity="1"/>
<ellipse cx="386.4" cy="552" rx="5.25" ry="4.0" fill="#000" opacity="1"/>
<ellipse cx="386.4" cy="550.5" rx="5.25" ry="2.2" fill="#000" opacity="1"/>
<ellipse cx="403.3" cy="551.4" rx="5.0" ry="2.5" fill="#000" opacity="1"/>
<ellipse cx="288" cy="563" rx="2.5" ry="1.5" fill="#000" opacity="0.12"/>
<ellipse cx="320" cy="562.5" rx="2.5" ry="1.5" fill="#000" opacity="0.3"/>
<ellipse cx="337.5" cy="563" rx="2.5" ry="1.5" fill="#000" opacity="0.2"/>
<ellipse cx="333" cy="563" rx="1.7" ry="1.5" fill="#000" opacity="0.2"/>
<ellipse cx="352.5" cy="563" rx="2.6" ry="2.6" fill="#000" opacity="1"/>
<ellipse cx="369.5" cy="563" rx="3.0" ry="2.0" fill="#000" opacity="0.8"/>
<ellipse cx="385" cy="564" rx="2.7" ry="2.8" fill="#000" opacity="1"/>
<ellipse cx="403" cy="562.6" rx="2.5" ry="1.9" fill="#000" opacity="0.75"/>
</g>
<rect x="279.3" y="569.6" width="133" height="11.4" fill="#a8a8a8" stroke="none" stroke-width="1" />
<g filter="url(#bl)">
<ellipse cx="287.3" cy="574.6" rx="3.0" ry="1.8" fill="#000" opacity="0.8"/>
<ellipse cx="304" cy="576" rx="4.75" ry="1.3" fill="#000" opacity="0.8"/>
<ellipse cx="319.6" cy="574.8" rx="3.5" ry="1.8" fill="#000" opacity="0.8"/>
<ellipse cx="335.8" cy="576" rx="4.75" ry="1.1" fill="#000" opacity="0.75"/>
<ellipse cx="352.6" cy="575" rx="3.25" ry="1.8" fill="#000" opacity="0.8"/>
<ellipse cx="369.3" cy="576" rx="4.75" ry="1.3" fill="#000" opacity="0.8"/>
<ellipse cx="385.5" cy="576" rx="4.75" ry="1.4" fill="#000" opacity="0.8"/>
<ellipse cx="401.7" cy="575.6" rx="4.75" ry="1.4" fill="#000" opacity="0.8"/>
</g>
<text x="414.3" y="460" font-size="10.5" text-anchor="start" font-weight="normal" fill="#000" >phospho MAPK</text>
<text x="490.6" y="456.5" font-size="8" text-anchor="start" font-weight="normal" fill="#000" >p42/p44</text>
<text x="415.7" y="475.4" font-size="12.3" text-anchor="start" font-weight="normal" fill="#000" >total MAPK</text>
<text x="481" y="471.5" font-size="8.6" text-anchor="start" font-weight="normal" fill="#000" >p42/p44</text>
<text x="414.3" y="509.5" font-size="10.6" text-anchor="start" font-weight="normal" fill="#000" >phospho Akt</text>
<text x="414.3" y="524.4" font-size="10.7" text-anchor="start" font-weight="normal" fill="#000" >total Akt</text>
<text x="415" y="553.2" font-size="10.6" text-anchor="start" font-weight="normal" fill="#000" >phospho CREB</text>
<text x="415" y="563.8" font-size="10.7" text-anchor="start" font-weight="normal" fill="#000" >phospho ATF-1</text>
<text x="415" y="578.2" font-size="10.7" text-anchor="start" font-weight="normal" fill="#000" >total CREB</text>
<text transform="translate(235.6,761.7) rotate(-90)" font-size="10.75" text-anchor="start" fill="#000">relative ratio of phosphorylated</text>
<text transform="translate(248.9,738.6) rotate(-90)" font-size="10.7" text-anchor="start" fill="#000">protein to total protein</text>
<text x="250" y="623.7" font-size="10.5" text-anchor="start" font-weight="normal" fill="#000" >phospho MAPK</text>
<text x="327" y="620.3" font-size="7.8" text-anchor="start" font-weight="normal" fill="#000" >p42/p44</text>
<text x="349.5" y="635.5" font-size="10.5" text-anchor="start" font-weight="normal" fill="#000" >phospho Akt</text>
<text x="412.7" y="621.5" font-size="10.7" text-anchor="start" font-weight="normal" fill="#000" >phospho CREB</text>
<text x="292.5" y="763" font-size="10.7" text-anchor="start" font-weight="normal" fill="#000" >minutes after CXCL12 stimulation</text>
<line x1="268.7" y1="637" x2="268.7" y2="739.1" stroke="#777" stroke-width="1.0" />
<line x1="268.2" y1="738.6" x2="322.5" y2="738.6" stroke="#555" stroke-width="1.0" />
<polyline points="271.3,727 287.5,651 302.5,648.7 317.5,673" fill="none" stroke="#333" stroke-width="1" stroke-dasharray="5,1"/>
<polyline points="271.7,733.7 286.3,706.3 302.5,698.7 316.3,708.3" fill="none" stroke="#222" stroke-width="1"/>
<path d="M271.3,723.78 L274.1,729.1 L268.5,729.1 Z" fill="#fff" stroke="#222" stroke-width="0.8"/>
<path d="M287.5,647.78 L290.3,653.1 L284.7,653.1 Z" fill="#fff" stroke="#222" stroke-width="0.8"/>
<path d="M302.5,645.48 L305.3,650.8000000000001 L299.7,650.8000000000001 Z" fill="#fff" stroke="#222" stroke-width="0.8"/>
<path d="M317.5,669.78 L320.3,675.1 L314.7,675.1 Z" fill="#fff" stroke="#222" stroke-width="0.8"/>
<circle cx="271.7" cy="733.7" r="2.7" fill="#000"/>
<circle cx="286.3" cy="706.3" r="2.7" fill="#000"/>
<circle cx="302.5" cy="698.7" r="2.7" fill="#000"/>
<circle cx="316.3" cy="708.3" r="2.7" fill="#000"/>
<text x="263.7" y="742.0" font-size="10.8" text-anchor="end" font-weight="normal" fill="#000" >0</text>
<text x="263.7" y="685.0" font-size="10.8" text-anchor="end" font-weight="normal" fill="#000" >1</text>
<text x="271.3" y="751.2" font-size="10.8" text-anchor="middle" font-weight="normal" fill="#000" >0</text>
<text x="285.3" y="751.2" font-size="10.8" text-anchor="middle" font-weight="normal" fill="#000" >5</text>
<text x="302" y="751.2" font-size="10.8" text-anchor="middle" font-weight="normal" fill="#000" >10</text>
<text x="317.3" y="751.2" font-size="10.8" text-anchor="middle" font-weight="normal" fill="#000" >15</text>
<line x1="343.3" y1="637.5" x2="343.3" y2="738.5" stroke="#777" stroke-width="1.0" />
<line x1="342.8" y1="738" x2="398.7" y2="738" stroke="#555" stroke-width="1.0" />
<polyline points="348.3,727.5 364.5,647 380,653.7 395,663.7" fill="none" stroke="#333" stroke-width="1" stroke-dasharray="5,1"/>
<polyline points="348.3,734.5 363,720.5 379.3,690.3 393.3,714.3" fill="none" stroke="#222" stroke-width="1"/>
<path d="M348.3,724.28 L351.1,729.6 L345.5,729.6 Z" fill="#fff" stroke="#222" stroke-width="0.8"/>
<path d="M364.5,643.78 L367.3,649.1 L361.7,649.1 Z" fill="#fff" stroke="#222" stroke-width="0.8"/>
<path d="M380,650.48 L382.8,655.8000000000001 L377.2,655.8000000000001 Z" fill="#fff" stroke="#222" stroke-width="0.8"/>
<path d="M395,660.48 L397.8,665.8000000000001 L392.2,665.8000000000001 Z" fill="#fff" stroke="#222" stroke-width="0.8"/>
<circle cx="348.3" cy="734.5" r="2.7" fill="#000"/>
<circle cx="363" cy="720.5" r="2.7" fill="#000"/>
<circle cx="379.3" cy="690.3" r="2.7" fill="#000"/>
<circle cx="393.3" cy="714.3" r="2.7" fill="#000"/>
<text x="342.40000000000003" y="744.3" font-size="10.8" text-anchor="end" font-weight="normal" fill="#000" >0</text>
<text x="338.90000000000003" y="674.4" font-size="10.8" text-anchor="end" font-weight="normal" fill="#000" >1</text>
<text x="348" y="750.6" font-size="10.8" text-anchor="middle" font-weight="normal" fill="#000" >0</text>
<text x="363" y="750.6" font-size="10.8" text-anchor="middle" font-weight="normal" fill="#000" >5</text>
<text x="379.3" y="750.6" font-size="10.8" text-anchor="middle" font-weight="normal" fill="#000" >10</text>
<text x="394.3" y="750.6" font-size="10.8" text-anchor="middle" font-weight="normal" fill="#000" >15</text>
<line x1="417.9" y1="636.3" x2="417.9" y2="738.5" stroke="#777" stroke-width="1.0" />
<line x1="417.4" y1="738" x2="472.7" y2="738" stroke="#555" stroke-width="1.0" />
<polyline points="421.4,705 436,667 452.4,648 467,645.7" fill="none" stroke="#333" stroke-width="1" stroke-dasharray="5,1"/>
<polyline points="421.4,711.4 434.8,705.7 452.4,676.8 467,686.9" fill="none" stroke="#222" stroke-width="1"/>
<path d="M421.4,701.78 L424.2,707.1 L418.59999999999997,707.1 Z" fill="#fff" stroke="#222" stroke-width="0.8"/>
<path d="M436,663.78 L438.8,669.1 L433.2,669.1 Z" fill="#fff" stroke="#222" stroke-width="0.8"/>
<path d="M452.4,644.78 L455.2,650.1 L449.59999999999997,650.1 Z" fill="#fff" stroke="#222" stroke-width="0.8"/>
<path d="M467,642.48 L469.8,647.8000000000001 L464.2,647.8000000000001 Z" fill="#fff" stroke="#222" stroke-width="0.8"/>
<circle cx="421.4" cy="711.4" r="2.7" fill="#000"/>
<circle cx="434.8" cy="705.7" r="2.7" fill="#000"/>
<circle cx="452.4" cy="676.8" r="2.7" fill="#000"/>
<circle cx="467" cy="686.9" r="2.7" fill="#000"/>
<text x="416.9" y="743.2" font-size="10.8" text-anchor="end" font-weight="normal" fill="#000" >0</text>
<text x="415.5" y="701.0" font-size="10.8" text-anchor="end" font-weight="normal" fill="#000" >1</text>
<text x="415.5" y="660.3" font-size="10.8" text-anchor="end" font-weight="normal" fill="#000" >2</text>
<text x="422" y="750.6" font-size="10.8" text-anchor="middle" font-weight="normal" fill="#000" >0</text>
<text x="435.7" y="750.6" font-size="10.8" text-anchor="middle" font-weight="normal" fill="#000" >5</text>
<text x="452.6" y="750.6" font-size="10.8" text-anchor="middle" font-weight="normal" fill="#000" >10</text>
<text x="468.4" y="750.6" font-size="10.8" text-anchor="middle" font-weight="normal" fill="#000" >15</text>
<line x1="441" y1="717.3" x2="466" y2="717.3" stroke="#888" stroke-width="0.9" stroke-dasharray="3.5,1"/>
<path d="M453.5,712.775 L457.0,719.425 L450.0,719.425 Z" fill="#fff" stroke="#222" stroke-width="0.8"/>
<line x1="441" y1="730.5" x2="466" y2="730.5" stroke="#111" stroke-width="1.1" />
<circle cx="453.5" cy="730.5" r="3" fill="#000"/>
<text x="475.7" y="720.4" font-size="10.6" text-anchor="start" font-weight="normal" fill="#000" >- FL</text>
<text x="475.7" y="733.6" font-size="10.6" text-anchor="start" font-weight="normal" fill="#000" >+FL</text>
</g>
</svg>
</body></html>
